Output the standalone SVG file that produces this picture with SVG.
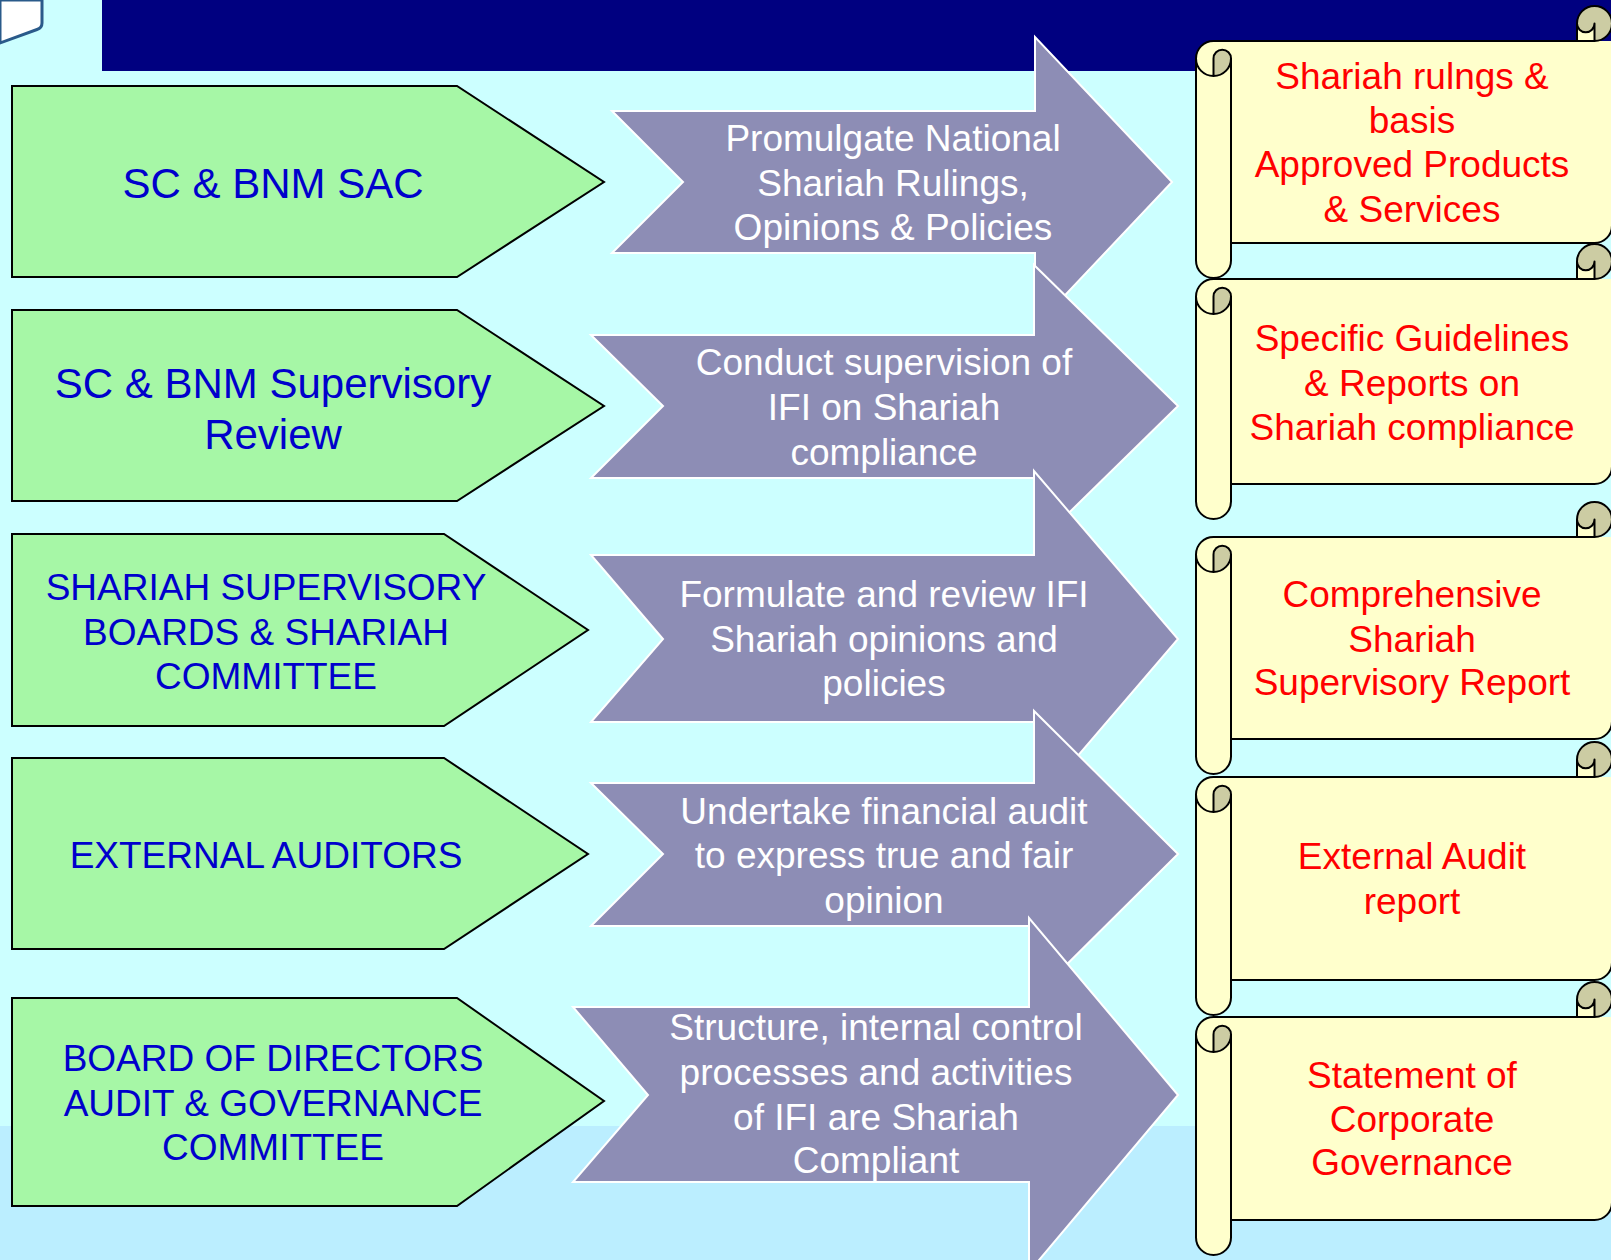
<svg xmlns="http://www.w3.org/2000/svg" width="1611" height="1260" viewBox="0 0 1611 1260">
<defs>
<style>
.bg{fill:#CCFFFF}
.green{fill:#A6F7A6;stroke:#000;stroke-width:2;stroke-linejoin:miter}
.arrow{fill:#8D8DB5;stroke:#FFFFFF;stroke-width:2;stroke-linejoin:miter}
.cream{fill:#FFFFCC;stroke:none}
.dark{fill:#CCCCA3;stroke:none}
.line{fill:none;stroke:#000;stroke-width:2;stroke-linejoin:round}
text{font-family:"Liberation Sans",Arial,sans-serif;text-anchor:middle}
.gt{fill:#0000CC}
.at{fill:#FFFFFF;font-size:37px}
.st{fill:#FF0000;font-size:37px}
</style>
</defs>
<rect x="0" y="0" width="1611" height="1260" class="bg"/>
<rect x="0" y="1126" width="1611" height="134" fill="#BBEEFF"/>
<rect x="102" y="0" width="1509" height="71" fill="#000080"/>
<g id="icon">
<path d="M0,0 L42,0 L42,23 Q42,28 37,29.5 L0,43 Z" fill="#FFFFFF" stroke="#2A5A8A" stroke-width="3"/>
</g>

<g id="box1"><path class="green" d="M12,86 L457,86 L604,182 L457,277 L12,277 Z"/>
<text class="gt" font-size="42" x="273" y="198">SC &amp; BNM SAC</text></g>
<g id="box2"><path class="green" d="M12,310 L457,310 L604,406 L457,501 L12,501 Z"/>
<text class="gt" font-size="42" x="273" y="398">SC &amp; BNM Supervisory</text>
<text class="gt" font-size="42" x="273" y="449">Review</text></g>
<g id="box3"><path class="green" d="M12,534 L444,534 L588,630 L444,726 L12,726 Z"/>
<text class="gt" font-size="37" x="266" y="600">SHARIAH SUPERVISORY</text>
<text class="gt" font-size="37" x="266" y="645">BOARDS &amp; SHARIAH</text>
<text class="gt" font-size="37" x="266" y="689">COMMITTEE</text></g>
<g id="box4"><path class="green" d="M12,758 L444,758 L588,854 L444,949 L12,949 Z"/>
<text class="gt" font-size="37" x="266" y="868">EXTERNAL AUDITORS</text></g>
<g id="box5"><path class="green" d="M12,998 L457,998 L604,1101 L457,1206 L12,1206 Z"/>
<text class="gt" font-size="37" x="273" y="1071">BOARD OF DIRECTORS</text>
<text class="gt" font-size="37" x="273" y="1116">AUDIT &amp; GOVERNANCE</text>
<text class="gt" font-size="37" x="273" y="1160">COMMITTEE</text></g>

<g id="arrow1"><path class="arrow" d="M612,111 L1035,111 L1035,37 L1172,182 L1035,327 L1035,253 L612,253 L683,182 Z"/>
<text class="at" x="893" y="151">Promulgate National</text>
<text class="at" x="893" y="196">Shariah Rulings,</text>
<text class="at" x="893" y="240">Opinions &amp; Policies</text></g>
<g id="arrow2"><path class="arrow" d="M591,335 L1034,335 L1034,265 L1178,406 L1034,547 L1034,478 L591,478 L663,406 Z"/>
<text class="at" x="884" y="375">Conduct supervision of</text>
<text class="at" x="884" y="420">IFI on Shariah</text>
<text class="at" x="884" y="465">compliance</text></g>
<g id="arrow3"><path class="arrow" d="M591,555 L1034,555 L1034,471 L1178,639 L1034,807 L1034,722 L591,722 L663,639 Z"/>
<text class="at" x="884" y="607">Formulate and review IFI</text>
<text class="at" x="884" y="652">Shariah opinions and</text>
<text class="at" x="884" y="696">policies</text></g>
<g id="arrow4"><path class="arrow" d="M591,783 L1034,783 L1034,711 L1178,854 L1034,997 L1034,926 L591,926 L663,854 Z"/>
<text class="at" x="884" y="824">Undertake financial audit</text>
<text class="at" x="884" y="868">to express true and fair</text>
<text class="at" x="884" y="913">opinion</text></g>
<g id="arrow5"><path class="arrow" d="M573,1007 L1029,1007 L1029,918 L1178,1095 L1029,1272 L1029,1182 L573,1182 L648,1095 Z"/>
<text class="at" x="876" y="1040">Structure, internal control</text>
<text class="at" x="876" y="1085">processes and activities</text>
<text class="at" x="876" y="1130">of IFI are Shariah</text>
<text class="at" x="876" y="1173">Compliant</text></g>

<g id="scroll1" transform="translate(0,6)">
<path class="cream" d="M1213.5,35 H1612 V219.5 A17.5 17.5 0 0 1 1594.5,237 H1213.5 Z"/>
<circle class="dark" cx="1594.5" cy="17.5" r="17.5"/>
<path class="cream" d="M1577,35 V17.5 A8.75 8.75 0 0 0 1594.5,17.5 V35 Z"/>
<path class="cream" d="M1196,52.5 V254.5 A17.5 17.5 0 0 0 1231,254.5 V52.5 Z"/>
<circle class="cream" cx="1213.5" cy="52.5" r="17.5"/>
<path class="dark" d="M1213.5,70 A17.5 17.5 0 0 0 1231,52.5 A8.75 8.75 0 0 0 1213.5,52.5 Z"/>
<path class="line" d="M1196,52.5 A17.5 17.5 0 0 1 1213.5,35 H1577 V17.5 A17.5 17.5 0 0 1 1612,17.5 V219.5 A17.5 17.5 0 0 1 1594.5,237 H1231 V254.5 A17.5 17.5 0 0 1 1196,254.5 Z M1577,35 H1594.5 A17.5 17.5 0 0 0 1612,17.5 M1594.5,35 V17.5 A8.75 8.75 0 0 1 1577,17.5 M1196,52.5 A17.5 17.5 0 0 0 1213.5,70 A17.5 17.5 0 0 0 1231,52.5 M1213.5,70 V52.5 A8.75 8.75 0 0 1 1231,52.5 M1231,52.5 V237"/>
<text class="st" x="1412" y="83">Shariah rulngs &amp;</text>
<text class="st" x="1412" y="127">basis</text>
<text class="st" x="1412" y="171">Approved Products</text>
<text class="st" x="1412" y="216">&amp; Services</text>
</g>

<g id="scroll2" transform="translate(0,244)">
<path class="cream" d="M1213.5,35 H1612 V222.5 A17.5 17.5 0 0 1 1594.5,240 H1213.5 Z"/>
<circle class="dark" cx="1594.5" cy="17.5" r="17.5"/>
<path class="cream" d="M1577,35 V17.5 A8.75 8.75 0 0 0 1594.5,17.5 V35 Z"/>
<path class="cream" d="M1196,52.5 V257.5 A17.5 17.5 0 0 0 1231,257.5 V52.5 Z"/>
<circle class="cream" cx="1213.5" cy="52.5" r="17.5"/>
<path class="dark" d="M1213.5,70 A17.5 17.5 0 0 0 1231,52.5 A8.75 8.75 0 0 0 1213.5,52.5 Z"/>
<path class="line" d="M1196,52.5 A17.5 17.5 0 0 1 1213.5,35 H1577 V17.5 A17.5 17.5 0 0 1 1612,17.5 V222.5 A17.5 17.5 0 0 1 1594.5,240 H1231 V257.5 A17.5 17.5 0 0 1 1196,257.5 Z M1577,35 H1594.5 A17.5 17.5 0 0 0 1612,17.5 M1594.5,35 V17.5 A8.75 8.75 0 0 1 1577,17.5 M1196,52.5 A17.5 17.5 0 0 0 1213.5,70 A17.5 17.5 0 0 0 1231,52.5 M1213.5,70 V52.5 A8.75 8.75 0 0 1 1231,52.5 M1231,52.5 V240"/>
<text class="st" x="1412" y="107">Specific Guidelines</text>
<text class="st" x="1412" y="152">&amp; Reports on</text>
<text class="st" x="1412" y="196">Shariah compliance</text>
</g>

<g id="scroll3" transform="translate(0,502)">
<path class="cream" d="M1213.5,35 H1612 V219.5 A17.5 17.5 0 0 1 1594.5,237 H1213.5 Z"/>
<circle class="dark" cx="1594.5" cy="17.5" r="17.5"/>
<path class="cream" d="M1577,35 V17.5 A8.75 8.75 0 0 0 1594.5,17.5 V35 Z"/>
<path class="cream" d="M1196,52.5 V254.5 A17.5 17.5 0 0 0 1231,254.5 V52.5 Z"/>
<circle class="cream" cx="1213.5" cy="52.5" r="17.5"/>
<path class="dark" d="M1213.5,70 A17.5 17.5 0 0 0 1231,52.5 A8.75 8.75 0 0 0 1213.5,52.5 Z"/>
<path class="line" d="M1196,52.5 A17.5 17.5 0 0 1 1213.5,35 H1577 V17.5 A17.5 17.5 0 0 1 1612,17.5 V219.5 A17.5 17.5 0 0 1 1594.5,237 H1231 V254.5 A17.5 17.5 0 0 1 1196,254.5 Z M1577,35 H1594.5 A17.5 17.5 0 0 0 1612,17.5 M1594.5,35 V17.5 A8.75 8.75 0 0 1 1577,17.5 M1196,52.5 A17.5 17.5 0 0 0 1213.5,70 A17.5 17.5 0 0 0 1231,52.5 M1213.5,70 V52.5 A8.75 8.75 0 0 1 1231,52.5 M1231,52.5 V237"/>
<text class="st" x="1412" y="105">Comprehensive</text>
<text class="st" x="1412" y="150">Shariah</text>
<text class="st" x="1412" y="193">Supervisory Report</text>
</g>

<g id="scroll4" transform="translate(0,742)">
<path class="cream" d="M1213.5,35 H1612 V220.5 A17.5 17.5 0 0 1 1594.5,238 H1213.5 Z"/>
<circle class="dark" cx="1594.5" cy="17.5" r="17.5"/>
<path class="cream" d="M1577,35 V17.5 A8.75 8.75 0 0 0 1594.5,17.5 V35 Z"/>
<path class="cream" d="M1196,52.5 V255.5 A17.5 17.5 0 0 0 1231,255.5 V52.5 Z"/>
<circle class="cream" cx="1213.5" cy="52.5" r="17.5"/>
<path class="dark" d="M1213.5,70 A17.5 17.5 0 0 0 1231,52.5 A8.75 8.75 0 0 0 1213.5,52.5 Z"/>
<path class="line" d="M1196,52.5 A17.5 17.5 0 0 1 1213.5,35 H1577 V17.5 A17.5 17.5 0 0 1 1612,17.5 V220.5 A17.5 17.5 0 0 1 1594.5,238 H1231 V255.5 A17.5 17.5 0 0 1 1196,255.5 Z M1577,35 H1594.5 A17.5 17.5 0 0 0 1612,17.5 M1594.5,35 V17.5 A8.75 8.75 0 0 1 1577,17.5 M1196,52.5 A17.5 17.5 0 0 0 1213.5,70 A17.5 17.5 0 0 0 1231,52.5 M1213.5,70 V52.5 A8.75 8.75 0 0 1 1231,52.5 M1231,52.5 V238"/>
<text class="st" x="1412" y="127">External Audit</text>
<text class="st" x="1412" y="172">report</text>
</g>

<g id="scroll5" transform="translate(0,982)">
<path class="cream" d="M1213.5,35 H1612 V220.5 A17.5 17.5 0 0 1 1594.5,238 H1213.5 Z"/>
<circle class="dark" cx="1594.5" cy="17.5" r="17.5"/>
<path class="cream" d="M1577,35 V17.5 A8.75 8.75 0 0 0 1594.5,17.5 V35 Z"/>
<path class="cream" d="M1196,52.5 V255.5 A17.5 17.5 0 0 0 1231,255.5 V52.5 Z"/>
<circle class="cream" cx="1213.5" cy="52.5" r="17.5"/>
<path class="dark" d="M1213.5,70 A17.5 17.5 0 0 0 1231,52.5 A8.75 8.75 0 0 0 1213.5,52.5 Z"/>
<path class="line" d="M1196,52.5 A17.5 17.5 0 0 1 1213.5,35 H1577 V17.5 A17.5 17.5 0 0 1 1612,17.5 V220.5 A17.5 17.5 0 0 1 1594.5,238 H1231 V255.5 A17.5 17.5 0 0 1 1196,255.5 Z M1577,35 H1594.5 A17.5 17.5 0 0 0 1612,17.5 M1594.5,35 V17.5 A8.75 8.75 0 0 1 1577,17.5 M1196,52.5 A17.5 17.5 0 0 0 1213.5,70 A17.5 17.5 0 0 0 1231,52.5 M1213.5,70 V52.5 A8.75 8.75 0 0 1 1231,52.5 M1231,52.5 V238"/>
<text class="st" x="1412" y="106">Statement of</text>
<text class="st" x="1412" y="150">Corporate</text>
<text class="st" x="1412" y="193">Governance</text>
</g>
</svg>
